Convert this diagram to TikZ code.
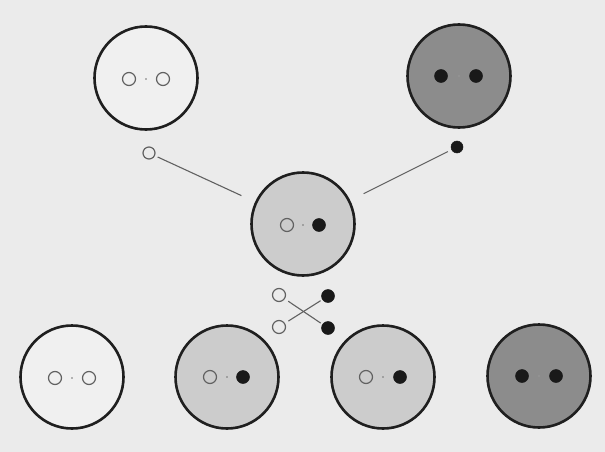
\documentclass[tikz,border=0pt]{standalone}
\begin{document}
\begin{tikzpicture}[x=1pt,y=-1pt,
  cell/.style={circle,draw=black!88,line width=2.6pt,minimum size=103pt,inner sep=0pt},
  white cell/.style={cell,fill=white!94!black},
  light cell/.style={cell,fill=black!20},
  dark cell/.style={cell,fill=black!45},
  recessive/.style={circle,draw=black!62,line width=1.2pt,minimum size=13pt,inner sep=0pt},
  dominant/.style={circle,fill=black!90,draw=black!90,line width=0.5pt,minimum size=13pt,inner sep=0pt},
  dot/.style={circle,fill=black!55,minimum size=1.8pt,inner sep=0pt},
  link/.style={draw=black!62,line width=1.1pt}]
\fill[black!8] (0,0) rectangle (605,452);
\useasboundingbox (0,0) rectangle (605,452);
% parents
\node[white cell] (p1) at (146,78) {};
\node[recessive] (p1a) at (129,79) {};
\node[recessive] (p1b) at (163,79) {};
\node[dot] (p1c) at (146,79) {};
\node[dark cell] (p2) at (459,76) {};
\node[dominant] (p2a) at (441,76) {};
\node[dominant] (p2b) at (476,76) {};
\node[dot,fill=black!40] (p2c) at (459,76) {};
% gametes
\node[recessive,minimum size=12pt] (g1) at (149,153) {};
\node[dominant,minimum size=12pt] (g2) at (457,147) {};
% F1
\node[light cell] (f1) at (303,224) {};
\node[recessive] (f1a) at (287,225) {};
\node[dominant] (f1b) at (319,225) {};
\node[dot] (f1c) at (303,225) {};
\draw[link,shorten <=3pt,shorten >=15pt] (g1) -- (f1);
\draw[link,shorten <=4pt,shorten >=15pt] (g2) -- (f1);
% F1 gametes
\node[recessive] (ga) at (279,295) {};
\node[recessive] (gb) at (279,327) {};
\node[dominant] (gc) at (328,296) {};
\node[dominant] (gd) at (328,328) {};
\draw[link,shorten <=4pt,shorten >=2pt] (ga) -- (gd);
\draw[link,shorten <=4pt,shorten >=2pt] (gb) -- (gc);
% F2
\node[white cell] (c1) at (72,377) {};
\node[recessive] (c1a) at (55,378) {};
\node[recessive] (c1b) at (89,378) {};
\node[dot] (c1c) at (72,378) {};
\node[light cell] (c2) at (227,377) {};
\node[recessive] (c2a) at (210,377) {};
\node[dominant] (c2b) at (243,377) {};
\node[dot] (c2c) at (227,377) {};
\node[light cell] (c3) at (383,377) {};
\node[recessive] (c3a) at (366,377) {};
\node[dominant] (c3b) at (400,377) {};
\node[dot] (c3c) at (383,377) {};
\node[dark cell] (c4) at (539,376) {};
\node[dominant] (c4a) at (522,376) {};
\node[dominant] (c4b) at (556,376) {};
\node[dot,fill=black!40] (c4c) at (539,376) {};
\end{tikzpicture}
\end{document}
